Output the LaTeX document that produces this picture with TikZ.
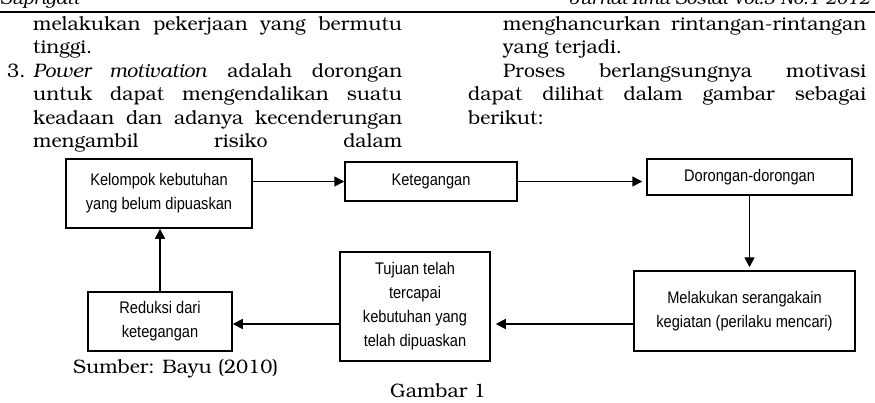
\documentclass[tikz,border=0pt]{standalone}
\usepackage[T1]{fontenc}
\usepackage{fontspec}
\usetikzlibrary{arrows.meta,calc}
\newfontfamily\diagfont[FakeStretch=0.87]{Liberation Sans}
\newcommand\bkm{\fontencoding{T1}\fontfamily{pbk}\selectfont}
\begin{document}
\begin{tikzpicture}[x=1pt,y=-1pt,
  box/.style={draw,line width=1.5pt,inner sep=0pt,align=center,
    font=\diagfont\fontsize{16.8}{24}\selectfont},
  conn/.style={line width=1.7pt,-{Triangle[length=10pt,width=10pt]}},
  body/.style={anchor=base west,inner sep=0pt,font=\bkm\fontsize{19.5}{23.5}\selectfont},
  head/.style={anchor=base west,inner sep=0pt,font=\bkm\itshape\fontsize{18}{20}\selectfont}]
\useasboundingbox (0,0) rectangle (875,402);
\fill[white] (0,0) rectangle (875,402);
% header
\node[head] (hl) at (0,4) {Suprigati};
\node[head,anchor=base east] (hr) at (870,4) {Jurnal Ilmu Sosial Vol.3 No.1 2012};
\draw[line width=1.5pt] (0,12) -- (875,12);
% left column
\node[body] (l1) at (33,30) {\makebox[369pt][s]{melakukan pekerjaan yang bermutu}};
\node[body] (l2) at (33,53.5) {tinggi.};
\node[body] (l3n) at (7,77) {3.};
\node[body] (l3) at (33,77) {\makebox[369pt][s]{\textit{Power motivation} adalah dorongan}};
\node[body] (l4) at (33,100.5) {\makebox[369pt][s]{untuk dapat mengendalikan suatu}};
\node[body] (l5) at (33,124) {\makebox[369pt][s]{keadaan dan adanya kecenderungan}};
\node[body] (l6) at (33,147.5) {\makebox[369pt][s]{mengambil risiko dalam}};
% right column
\node[body] (r1) at (503,30) {\makebox[363pt][s]{menghancurkan rintangan-rintangan}};
\node[body] (r2) at (503,53.5) {yang terjadi.};
\node[body] (r3) at (503,77) {\makebox[363pt][s]{Proses berlangsungnya motivasi}};
\node[body] (r4) at (468,100.5) {\makebox[398pt][s]{dapat dilihat dalam gambar sebagai}};
\node[body] (r5) at (468,124) {berikut:};
% diagram
\node[box,minimum width=186pt,minimum height=69pt] (b1) at (159,193.5) {Kelompok kebutuhan\\yang belum dipuaskan};
\node[box,minimum width=172pt,minimum height=39pt] (b2) at (431,181.5) {Ketegangan};
\node[box,minimum width=205pt,minimum height=36pt] (b3) at (749.5,177) {Dorongan-dorongan};
\node[box,minimum width=221pt,minimum height=80pt] (b4) at (744.5,311) {Melakukan serangakain\\kegiatan (perilaku mencari)};
\node[box,minimum width=150pt,minimum height=109pt] (b5) at (415,306.5) {Tujuan telah\\tercapai\\kebutuhan yang\\telah dipuaskan};
\node[box,minimum width=144pt,minimum height=59pt] (b6) at (160,321.5) {Reduksi dari\\ketegangan};
\draw[conn] (b1.east |- b2.west) -- (b2.west);
\draw[conn,shorten >=4pt] (b2.east) -- (b3.west |- b2.east);
\draw[conn,shorten >=3pt] (b3.south) -- (b3.south |- b4.north);
\coordinate (p4) at ($(b4.west)+(0,13)$);
\draw[conn,shorten >=5pt] (p4) -- (b5.east |- p4);
\coordinate (p5) at ($(b5.west)+(0,17.5)$);
\draw[conn] (p5) -- (b6.east |- p5);
\draw[conn] (b6.north) -- (b6.north |- b1.south);
% captions
\node[body] (src) at (73,373) {Sumber: Bayu (2010)};
\node[body,anchor=base] (cap) at (438,397) {Gambar 1};
\end{tikzpicture}
\end{document}
